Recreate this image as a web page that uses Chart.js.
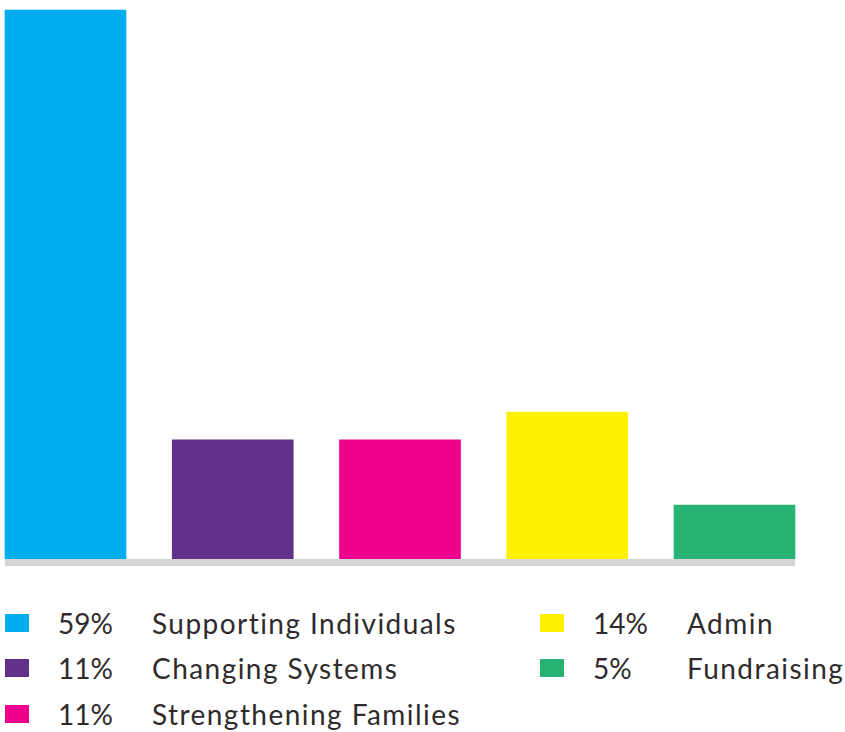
<!DOCTYPE html>
<html>
<head>
<meta charset="utf-8">
<script src="https://cdn.jsdelivr.net/npm/chart.js@4/dist/chart.umd.min.js"></script>
<style>
  html, body { margin: 0; padding: 0; background: #fff; }
  #wrap { position: relative; width: 845px; height: 732px; }
  #chart-box { position: absolute; left: 0; top: 0; width: 845px; height: 580px; }
  .legend-row { position: absolute; height: 46px; font-family: Lato, "Noto Sans", sans-serif;
                font-size: 28px; color: #2f2b2c; white-space: nowrap; }
  .legend-row .sw { position: absolute; left: 0; top: 9px; width: 24px; height: 18px; }
  .legend-row .pct, .legend-row .lbl { position: absolute; top: 0; line-height: 36px; }
  .legend-row .lbl { letter-spacing: 1.45px; }
</style>
</head>
<body>
<div id="wrap">
  <div id="chart-box"><canvas id="bars"></canvas></div>
  <div id="legend"></div>
</div>
<script>
// ── Data ───────────────────────────────────────────────────────────────────
const categories = ['Supporting Individuals', 'Changing Systems', 'Strengthening Families', 'Admin', 'Fundraising'];
const shareLabels = ['59%', '11%', '11%', '14%', '5%'];
// bar heights as drawn in the picture (scaled so the tallest bar = 59)
const barValues = [59, 12.8, 12.8, 15.8, 5.8];
const barColors = ['#00aeef', '#62318b', '#ec008c', '#fff100', '#27b373'];

// ── Baseline rule under the bars ───────────────────────────────────────────
const baselinePlugin = {
  id: 'baseline',
  afterDatasetsDraw(chart) {
    const bars = chart.getDatasetMeta(0).data;
    if (!bars.length) return;
    const first = bars[0], last = bars[bars.length - 1];
    const x0 = first.x - first.width / 2;
    const x1 = last.x + last.width / 2;
    const y = chart.scales.y.getPixelForValue(0);
    const ctx = chart.ctx;
    ctx.save();
    ctx.fillStyle = '#d5d5d6';
    ctx.fillRect(x0, y, x1 - x0, 7);
    ctx.restore();
  }
};

new Chart(document.getElementById('bars'), {
  type: 'bar',
  data: {
    labels: categories,
    datasets: [{
      data: barValues,
      backgroundColor: barColors,
      borderWidth: 0,
      barThickness: 121,
      clip: false,
    }]
  },
  options: {
    responsive: true,
    maintainAspectRatio: false,
    animation: false,
    layout: { padding: { top: 10, bottom: 21, left: 65.5, right: 110.5 } },
    plugins: { legend: { display: false }, tooltip: { enabled: false } },
    scales: {
      x: { display: false, offset: false, grid: { display: false } },
      y: { display: false, min: 0, max: 59, grid: { display: false } },
    }
  },
  plugins: [baselinePlugin]
});

// ── Legend (two columns) ───────────────────────────────────────────────────
const legendSlots = [
  { left: 5,   top: 605 }, { left: 5,   top: 650 }, { left: 5,   top: 696 },
  { left: 540, top: 605 }, { left: 540, top: 650 },
];
const legend = document.getElementById('legend');
categories.forEach((name, i) => {
  const slot = legendSlots[i];
  const row = document.createElement('div');
  row.className = 'legend-row';
  row.style.left = slot.left + 'px';
  row.style.top = slot.top + 'px';
  row.innerHTML =
    `<span class="sw" style="background:${barColors[i]}"></span>` +
    `<span class="pct" style="left:53px">${shareLabels[i]}</span>` +
    `<span class="lbl" style="left:147px">${name}</span>`;
  legend.appendChild(row);
});
</script>
</body>
</html>
